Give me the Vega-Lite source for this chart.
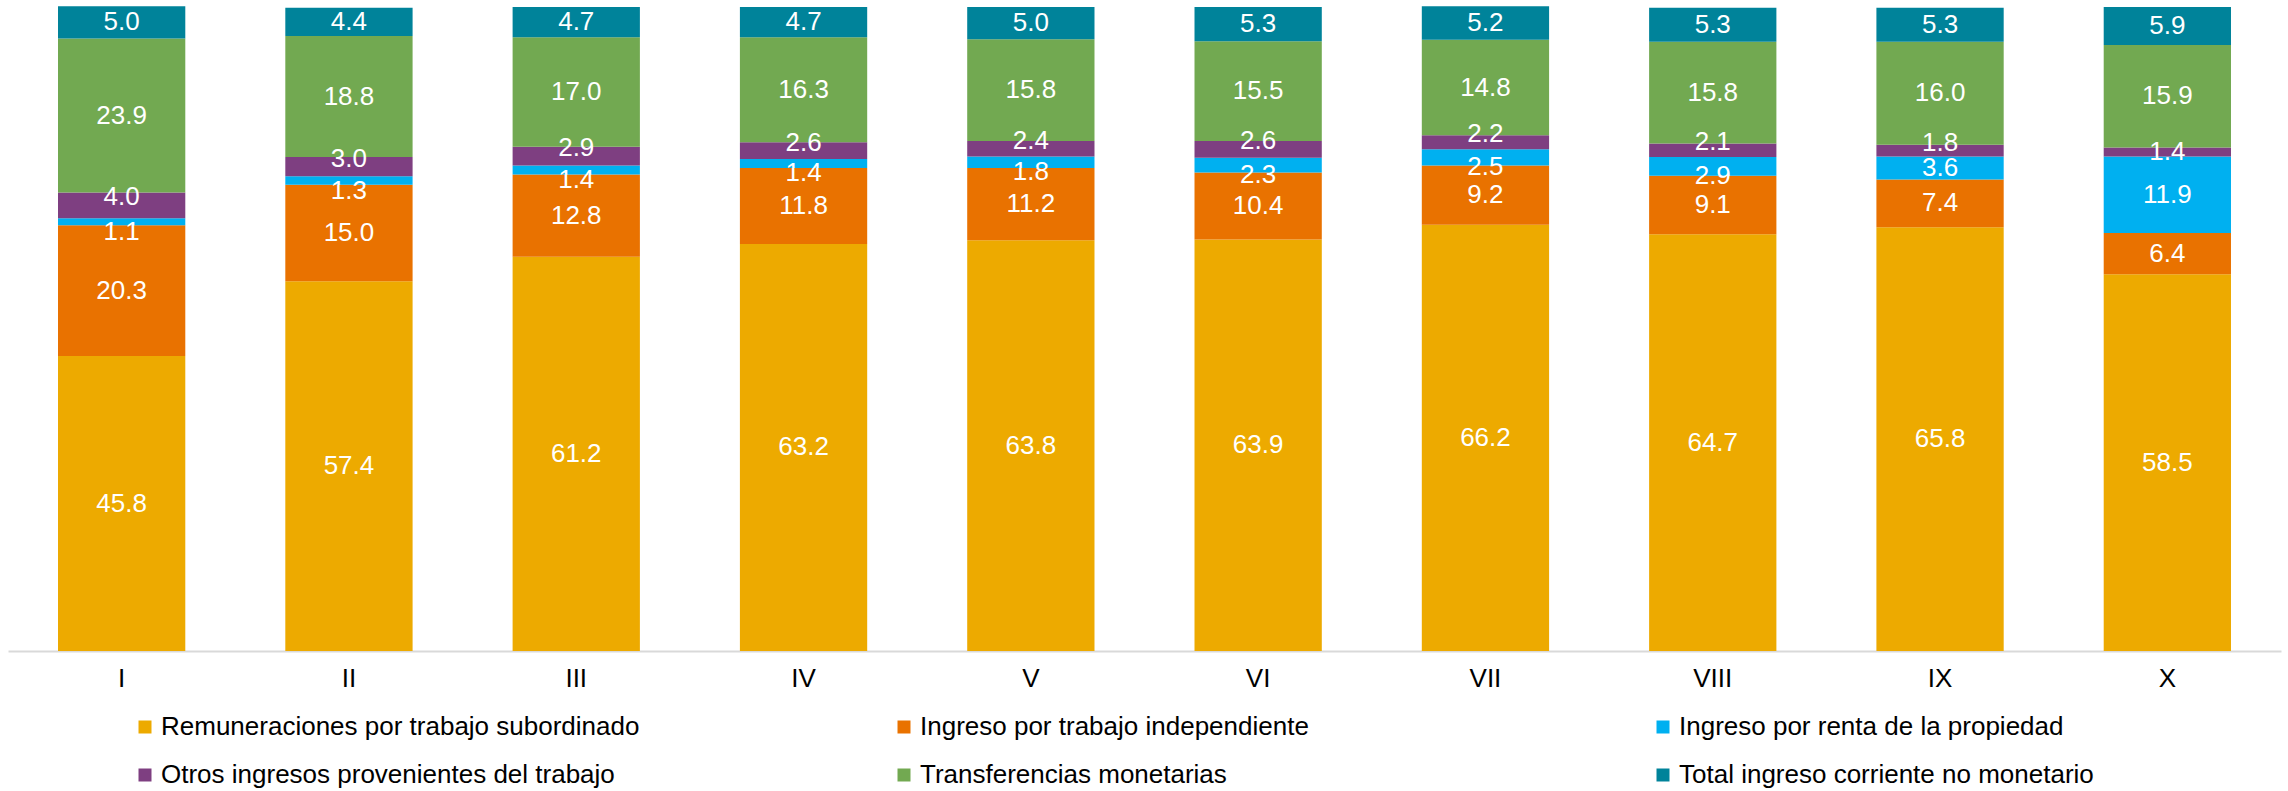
{
  "$schema": "https://vega.github.io/schema/vega-lite/v6.json",
  "width": 2273,
  "height": 644,
  "autosize": {"type": "none"},
  "padding": {"left": 8, "top": 7, "right": 7, "bottom": 140},
  "background": "white",
  "config": {"view": {"stroke": null}, "font": "Liberation Sans"},
  "data": {"values": [
    {"decil": "I", "serie": "Remuneraciones por trabajo subordinado", "valor": 45.8},
    {"decil": "I", "serie": "Ingreso por trabajo independiente", "valor": 20.3},
    {"decil": "I", "serie": "Ingreso por renta de la propiedad", "valor": 1.1},
    {"decil": "I", "serie": "Otros ingresos provenientes del trabajo", "valor": 4.0},
    {"decil": "I", "serie": "Transferencias monetarias", "valor": 23.9},
    {"decil": "I", "serie": "Total ingreso corriente no monetario", "valor": 5.0},
    {"decil": "II", "serie": "Remuneraciones por trabajo subordinado", "valor": 57.4},
    {"decil": "II", "serie": "Ingreso por trabajo independiente", "valor": 15.0},
    {"decil": "II", "serie": "Ingreso por renta de la propiedad", "valor": 1.3},
    {"decil": "II", "serie": "Otros ingresos provenientes del trabajo", "valor": 3.0},
    {"decil": "II", "serie": "Transferencias monetarias", "valor": 18.8},
    {"decil": "II", "serie": "Total ingreso corriente no monetario", "valor": 4.4},
    {"decil": "III", "serie": "Remuneraciones por trabajo subordinado", "valor": 61.2},
    {"decil": "III", "serie": "Ingreso por trabajo independiente", "valor": 12.8},
    {"decil": "III", "serie": "Ingreso por renta de la propiedad", "valor": 1.4},
    {"decil": "III", "serie": "Otros ingresos provenientes del trabajo", "valor": 2.9},
    {"decil": "III", "serie": "Transferencias monetarias", "valor": 17.0},
    {"decil": "III", "serie": "Total ingreso corriente no monetario", "valor": 4.7},
    {"decil": "IV", "serie": "Remuneraciones por trabajo subordinado", "valor": 63.2},
    {"decil": "IV", "serie": "Ingreso por trabajo independiente", "valor": 11.8},
    {"decil": "IV", "serie": "Ingreso por renta de la propiedad", "valor": 1.4},
    {"decil": "IV", "serie": "Otros ingresos provenientes del trabajo", "valor": 2.6},
    {"decil": "IV", "serie": "Transferencias monetarias", "valor": 16.3},
    {"decil": "IV", "serie": "Total ingreso corriente no monetario", "valor": 4.7},
    {"decil": "V", "serie": "Remuneraciones por trabajo subordinado", "valor": 63.8},
    {"decil": "V", "serie": "Ingreso por trabajo independiente", "valor": 11.2},
    {"decil": "V", "serie": "Ingreso por renta de la propiedad", "valor": 1.8},
    {"decil": "V", "serie": "Otros ingresos provenientes del trabajo", "valor": 2.4},
    {"decil": "V", "serie": "Transferencias monetarias", "valor": 15.8},
    {"decil": "V", "serie": "Total ingreso corriente no monetario", "valor": 5.0},
    {"decil": "VI", "serie": "Remuneraciones por trabajo subordinado", "valor": 63.9},
    {"decil": "VI", "serie": "Ingreso por trabajo independiente", "valor": 10.4},
    {"decil": "VI", "serie": "Ingreso por renta de la propiedad", "valor": 2.3},
    {"decil": "VI", "serie": "Otros ingresos provenientes del trabajo", "valor": 2.6},
    {"decil": "VI", "serie": "Transferencias monetarias", "valor": 15.5},
    {"decil": "VI", "serie": "Total ingreso corriente no monetario", "valor": 5.3},
    {"decil": "VII", "serie": "Remuneraciones por trabajo subordinado", "valor": 66.2},
    {"decil": "VII", "serie": "Ingreso por trabajo independiente", "valor": 9.2},
    {"decil": "VII", "serie": "Ingreso por renta de la propiedad", "valor": 2.5},
    {"decil": "VII", "serie": "Otros ingresos provenientes del trabajo", "valor": 2.2},
    {"decil": "VII", "serie": "Transferencias monetarias", "valor": 14.8},
    {"decil": "VII", "serie": "Total ingreso corriente no monetario", "valor": 5.2},
    {"decil": "VIII", "serie": "Remuneraciones por trabajo subordinado", "valor": 64.7},
    {"decil": "VIII", "serie": "Ingreso por trabajo independiente", "valor": 9.1},
    {"decil": "VIII", "serie": "Ingreso por renta de la propiedad", "valor": 2.9},
    {"decil": "VIII", "serie": "Otros ingresos provenientes del trabajo", "valor": 2.1},
    {"decil": "VIII", "serie": "Transferencias monetarias", "valor": 15.8},
    {"decil": "VIII", "serie": "Total ingreso corriente no monetario", "valor": 5.3},
    {"decil": "IX", "serie": "Remuneraciones por trabajo subordinado", "valor": 65.8},
    {"decil": "IX", "serie": "Ingreso por trabajo independiente", "valor": 7.4},
    {"decil": "IX", "serie": "Ingreso por renta de la propiedad", "valor": 3.6},
    {"decil": "IX", "serie": "Otros ingresos provenientes del trabajo", "valor": 1.8},
    {"decil": "IX", "serie": "Transferencias monetarias", "valor": 16.0},
    {"decil": "IX", "serie": "Total ingreso corriente no monetario", "valor": 5.3},
    {"decil": "X", "serie": "Remuneraciones por trabajo subordinado", "valor": 58.5},
    {"decil": "X", "serie": "Ingreso por trabajo independiente", "valor": 6.4},
    {"decil": "X", "serie": "Ingreso por renta de la propiedad", "valor": 11.9},
    {"decil": "X", "serie": "Otros ingresos provenientes del trabajo", "valor": 1.4},
    {"decil": "X", "serie": "Transferencias monetarias", "valor": 15.9},
    {"decil": "X", "serie": "Total ingreso corriente no monetario", "valor": 5.9}
  ]},
  "transform": [
    {"stack": "valor", "groupby": ["decil"], "as": ["y0", "y1"]},
    {"calculate": "(datum.y0 + datum.y1) / 2", "as": "ymid"}
  ],
  "encoding": {
    "x": {
      "field": "decil",
      "type": "nominal",
      "sort": ["I", "II", "III", "IV", "V", "VI", "VII", "VIII", "IX", "X"],
      "scale": {"paddingInner": 0.44, "paddingOuter": 0.22},
      "axis": {
        "title": null,
        "labelAngle": 0,
        "labelFontSize": 26,
        "labelColor": "#000000",
        "labelPadding": 14,
        "ticks": false,
        "tickSize": 0,
        "domainColor": "#d9d9d9",
        "domainWidth": 2,
        "grid": false
      }
    }
  },
  "layer": [
    {
      "mark": {"type": "bar"},
      "encoding": {
        "y": {"field": "y0", "type": "quantitative", "scale": {"domain": [0, 100], "nice": false}, "axis": null},
        "y2": {"field": "y1"},
        "color": {
          "field": "serie",
          "type": "nominal",
          "scale": {
            "domain": [
              "Remuneraciones por trabajo subordinado",
              "Ingreso por trabajo independiente",
              "Ingreso por renta de la propiedad",
              "Otros ingresos provenientes del trabajo",
              "Transferencias monetarias",
              "Total ingreso corriente no monetario"
            ],
            "range": ["#EDAA00", "#E97200", "#00B0F0", "#7E3F81", "#72A951", "#00839A"]
          },
          "legend": {
            "title": null,
            "orient": "none",
            "legendX": 124,
            "legendY": 707,
            "direction": "horizontal",
            "columns": 3,
            "gridAlign": "all",
            "columnPadding": 251,
            "rowPadding": 22,
            "symbolType": "square",
            "symbolSize": 169,
            "symbolStrokeWidth": 0,
            "labelFontSize": 26,
            "labelColor": "#000000",
            "labelOffset": 3,
            "labelLimit": 0
          }
        }
      }
    },
    {
      "transform": [
        {"filter": "!((datum.serie == 'Ingreso por renta de la propiedad' && datum.valor < 3.5) || (datum.serie == 'Otros ingresos provenientes del trabajo' && datum.valor > 1.5))"}
      ],
      "mark": {"type": "text", "color": "white", "fontSize": 26, "baseline": "middle"},
      "encoding": {
        "y": {"field": "ymid", "type": "quantitative"},
        "text": {"field": "valor", "type": "quantitative", "format": ".1f"}
      }
    },
    {
      "transform": [
        {"filter": "datum.serie == 'Ingreso por renta de la propiedad' && datum.valor < 3.5"}
      ],
      "mark": {"type": "text", "color": "white", "fontSize": 26, "baseline": "middle", "dy": 10},
      "encoding": {
        "y": {"field": "ymid", "type": "quantitative"},
        "text": {"field": "valor", "type": "quantitative", "format": ".1f"}
      }
    },
    {
      "transform": [
        {"filter": "datum.serie == 'Otros ingresos provenientes del trabajo' && datum.valor > 1.5"}
      ],
      "mark": {"type": "text", "color": "white", "fontSize": 26, "baseline": "middle", "dy": -8},
      "encoding": {
        "y": {"field": "ymid", "type": "quantitative"},
        "text": {"field": "valor", "type": "quantitative", "format": ".1f"}
      }
    }
  ]
}
